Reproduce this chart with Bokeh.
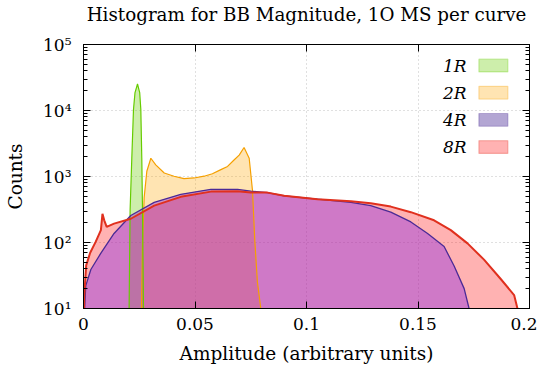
from bokeh.plotting import figure
from bokeh.models import LinearAxis, LogAxis, FixedTicker, Label, BoxAnnotation
from bokeh.embed import file_html
from bokeh.resources import INLINE

# ---------------- data ----------------
x_1R = [0.0202, 0.02045, 0.0209, 0.02166, 0.02242, 0.0231, 0.02422, 0.0252, 0.0257, 0.02614, 0.02646, 0.02691, 0.0272]
y_1R = [1, 10, 308, 1890, 10450, 18700, 25200, 18700, 10450, 1890, 308, 10, 1]

x_2R = [0.0258, 0.0260, 0.02646, 0.0272, 0.0284, 0.0302, 0.0324, 0.0362, 0.0406, 0.0451, 0.0496, 0.0541,
        0.0578, 0.0616, 0.0646, 0.0675, 0.0698, 0.0720, 0.0743, 0.0758, 0.0768, 0.0780, 0.0795, 0.0800]
y_2R = [1, 10, 97, 481, 1200, 1890, 1500, 1130, 1010, 930, 950, 1010,
        1100, 1270, 1420, 1780, 2110, 2750, 1890, 604, 109, 25, 10, 1]

x_4R = [0.0002, 0.0005, 0.0010, 0.0033, 0.0078, 0.0137, 0.0212, 0.0317, 0.0436, 0.0571, 0.0691, 0.0750,
        0.0825, 0.0900, 0.1049, 0.1199, 0.1288, 0.1378, 0.1468, 0.1543, 0.1617, 0.1662, 0.1707, 0.1729, 0.1735]
y_4R = [1, 10, 22, 39, 69, 137, 257, 406, 538, 640, 640, 600,
        570, 509, 454, 406, 362, 288, 205, 137, 87, 44, 20, 10, 1]

x_8R = [0.0001, 0.0003, 0.0012, 0.0030, 0.0055, 0.0078, 0.0085, 0.0093, 0.0104, 0.0137, 0.0212, 0.0317,
        0.0436, 0.0571, 0.0691, 0.0750, 0.0825, 0.0900, 0.1049, 0.1199, 0.1288, 0.1378, 0.1468, 0.1572,
        0.1647, 0.1722, 0.1796, 0.1871, 0.1931, 0.1946, 0.1952]
y_8R = [1, 15, 45, 70, 103, 154, 272, 217, 172, 193, 229, 362,
        492, 590, 600, 570, 570, 509, 454, 420, 392, 350, 288, 217,
        154, 97, 55, 28, 16, 10, 1]

series_names = ["1R", "2R", "4R", "8R"]
title_text = "Histogram for BB Magnitude, 1O MS per curve"

x_ticks = [0, 0.05, 0.1, 0.15, 0.2]
x_tick_labels = ["0", "0.05", "0.1", "0.15", "0.2"]
y_ticks = [10, 100, 1000, 10000, 100000]
y_tick_labels = ["10¹", "10²", "10³", "10⁴", "10⁵"]

# ---------------- styling ----------------
FONT = "DejaVu Serif"
FS = "17px"
FS_LABEL = "18.5px"
line_colors = {"1R": "#66cc00", "2R": "#f5a000", "4R": "#4b2a96", "8R": "#e0301e"}
fill_colors = {"1R": "#66cc00", "2R": "#ffa500", "4R": "#9434df", "8R": "#ff0000"}
fill_alphas = {"1R": 0.33, "2R": 0.3, "4R": 0.45, "8R": 0.3}
legend_fill = {"1R": ("#66cc00", 0.33), "2R": ("#ffa500", 0.3), "4R": ("#4b2a96", 0.42), "8R": ("#ff0000", 0.3)}
line_widths = {"1R": 1.2, "2R": 1.2, "4R": 1.3, "8R": 2.0}

p = figure(width=537, height=366, x_range=(0, 0.2), y_range=(10, 1e5), y_axis_type="log",
           output_backend="svg", toolbar_location=None,
           min_border_left=83, min_border_right=8, min_border_top=44, min_border_bottom=53)

p.outline_line_color = "black"
p.outline_line_width = 1
p.background_fill_color = "white"
p.border_fill_color = "white"

data = {"1R": (x_1R, y_1R), "2R": (x_2R, y_2R), "4R": (x_4R, y_4R), "8R": (x_8R, y_8R)}

# fills
for name in ["1R", "2R", "8R", "4R"]:
    xs, ys = data[name]
    p.patch(xs, ys, fill_color=fill_colors[name], fill_alpha=fill_alphas[name], line_color=None)
# outlines
for name in ["2R", "1R", "4R", "8R"]:
    xs, ys = data[name]
    p.line(xs, ys, line_color=line_colors[name], line_width=line_widths[name])

# grid
p.xgrid.ticker = FixedTicker(ticks=x_ticks[1:-1])
p.ygrid.ticker = FixedTicker(ticks=y_ticks[1:-1])
for g in (p.xgrid, p.ygrid):
    g.grid_line_color = "#c0c0c0"
    g.grid_line_dash = "1 3"
    g.grid_line_width = 1
    g.level = "underlay"

y_minor = [m * d for d in y_ticks[:-1] for m in range(2, 10)]
xt = FixedTicker(ticks=x_ticks)
yt = FixedTicker(ticks=y_ticks, minor_ticks=y_minor)

xa = p.xaxis[0]
ya = p.yaxis[0]
xa.ticker = xt
ya.ticker = yt
xa.major_label_overrides = {t: s for t, s in zip(x_ticks, x_tick_labels)}
ya.major_label_overrides = {t: s for t, s in zip(y_ticks, y_tick_labels)}
xa.axis_label = "Amplitude (arbitrary units)"
ya.axis_label = "Counts"

for ax in (xa, ya):
    ax.axis_line_color = "black"
    ax.major_tick_in = 7
    ax.major_tick_out = 0
    ax.minor_tick_in = 4
    ax.minor_tick_out = 0
    ax.major_tick_line_color = "black"
    ax.minor_tick_line_color = "black"
    ax.major_label_text_font = FONT
    ax.major_label_text_font_size = FS
    ax.major_label_text_color = "black"
    ax.axis_label_text_font = FONT
    ax.axis_label_text_font_size = FS_LABEL
    ax.axis_label_text_font_style = "normal"
    ax.axis_label_text_color = "black"
xa.minor_tick_in = 0
xa.major_label_standoff = 9
xa.axis_label_standoff = 10
ya.major_label_standoff = 12
ya.axis_label_standoff = 14

# mirrored axes (ticks only); the top one carries the chart title
ra = LogAxis(ticker=yt, major_label_overrides={t: "" for t in y_ticks})
ta = LinearAxis(ticker=xt, major_label_overrides={t: "" for t in x_ticks})
for ax in (ra, ta):
    ax.axis_line_color = "black"
    ax.major_tick_in = 7
    ax.major_tick_out = 0
    ax.minor_tick_in = 4
    ax.minor_tick_out = 0
    ax.major_label_standoff = 0
    ax.major_label_text_font_size = "1px"
ta.minor_tick_in = 0
ta.axis_label = title_text
ta.axis_label_align = "center"
ta.axis_label_text_font = FONT
ta.axis_label_text_font_size = "18.3px"
ta.axis_label_text_font_style = "normal"
ta.axis_label_text_color = "black"
ta.axis_label_standoff = 20
p.add_layout(ra, "right")
p.add_layout(ta, "above")

# legend (label left, swatch right)
lab_x = 0.1718
box_l, box_r = 0.1773, 0.1903
top_log = 4.681
step = 0.4116
half = 0.0966
for i, name in enumerate(series_names):
    lg = top_log - i * step
    p.add_layout(Label(x=lab_x, y=10 ** lg, text=name, text_align="right", text_baseline="middle",
                       text_font=FONT, text_font_size=FS, text_font_style="italic", text_color="black"))
    fc, fa = legend_fill[name]
    p.add_layout(BoxAnnotation(left=box_l, right=box_r, bottom=10 ** (lg - half), top=10 ** (lg + half),
                               fill_color=fc, fill_alpha=fa,
                               line_color=line_colors[name], line_width=1.2))

open("out.html", "w").write(file_html(p, INLINE))
